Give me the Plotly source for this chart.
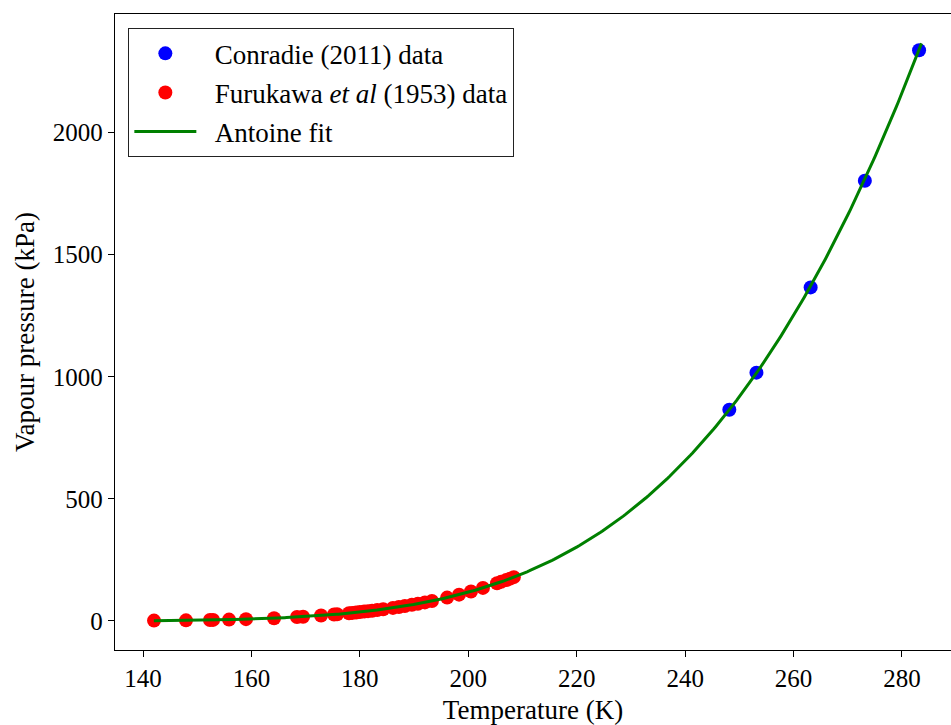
import numpy as np
import plotly.graph_objects as go

# Conradie (2011) measurements
conradie_T = [248.15, 253.15, 263.15, 273.15, 283.15]   # K
conradie_P = [865, 1017, 1366, 1803, 2337]              # kPa

# Furukawa et al (1953) measurements
furukawa_T = [142.03, 147.93, 152.36, 152.92, 155.87, 159.00, 164.17, 168.41,
              169.52, 172.84, 175.24, 175.80, 178.00, 178.60, 179.30, 180.00,
              180.80, 181.50, 182.25, 183.20, 184.30, 186.10, 187.20, 188.30,
              189.60, 190.70, 192.00, 193.30, 196.10, 198.30, 200.50, 202.70,
              205.30, 206.05, 207.00, 207.70, 208.40]
furukawa_P = [1.4, 2.6, 4.0, 4.3, 5.6, 7.4, 11.4, 16.0,
              17.4, 22.2, 26.3, 27.4, 31.8, 33.1, 34.7, 36.4,
              38.3, 40.1, 42.1, 44.8, 48.0, 53.6, 57.4, 61.3,
              66.2, 70.6, 76.1, 81.9, 95.7, 107.7, 120.9, 135.4,
              154.3, 160.1, 167.6, 173.4, 179.4]

# Antoine equation constants: log10(P / kPa) = A - B / (T + C)
antoine_A = 6.216
antoine_B = 756.0
antoine_C = -17.6
fit_T = np.linspace(142.0, 283.6, 400)
fit_P = 10 ** (antoine_A - antoine_B / (fit_T + antoine_C))

serif = "Liberation Serif, Times New Roman, serif"
pad = "\u00a0\u00a0"  # gap between legend symbol and label

fig = go.Figure()
fig.add_trace(go.Scatter(
    x=conradie_T, y=conradie_P, mode="markers",
    name=pad + "Conradie (2011) data", legendgroup="a",
    marker=dict(color="blue", size=14, line=dict(width=0)),
))
fig.add_trace(go.Scatter(
    x=furukawa_T, y=furukawa_P, mode="markers",
    name=pad + "Furukawa <i>et al</i> (1953) data", legendgroup="b",
    marker=dict(color="red", size=14, line=dict(width=0)),
))
fig.add_trace(go.Scatter(
    x=fit_T, y=fit_P, mode="lines",
    name=pad + "Antoine fit", legendgroup="c",
    line=dict(color="green", width=3),
))

fig.update_layout(
    width=951, height=725,
    margin=dict(l=115, r=0, t=14, b=75),
    paper_bgcolor="white", plot_bgcolor="white",
    font=dict(family=serif, size=25, color="black"),
    showlegend=True,
    legend=dict(
        x=0.0156, y=0.978, xanchor="left", yanchor="top",
        bgcolor="white", bordercolor="#222", borderwidth=1.3,
        font=dict(family=serif, size=27, color="black"),
        itemwidth=62, tracegroupgap=1,
    ),
)
fig.update_xaxes(
    range=[134.835, 289.04], showgrid=False, zeroline=False,
    showline=True, linecolor="black", linewidth=1.3, mirror=True,
    ticks="outside", ticklen=6, tickwidth=1.2, tickcolor="black",
    tickvals=[140, 160, 180, 200, 220, 240, 260, 280],
    tickfont=dict(family=serif, size=25),
    title=dict(text="Temperature (K)", font=dict(family=serif, size=27), standoff=8),
)
fig.update_yaxes(
    range=[-118.9, 2485.7], showgrid=False, zeroline=False,
    showline=True, linecolor="black", linewidth=1.3, mirror=False,
    ticks="outside", ticklen=6, tickwidth=1.2, tickcolor="black",
    tickvals=[0, 500, 1000, 1500, 2000],
    tickfont=dict(family=serif, size=25),
    title=dict(text="Vapour pressure (kPa)", font=dict(family=serif, size=27), standoff=10),
)

fig.write_html("out.html")
